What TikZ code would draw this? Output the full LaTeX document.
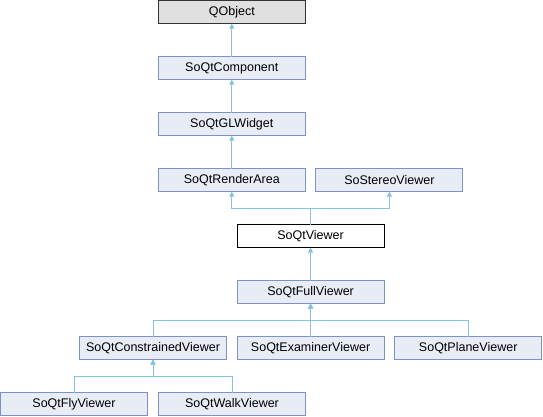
\documentclass[tikz,border=0pt]{standalone}
\usepackage{fontspec}
\setmainfont{Liberation Sans}
\usepackage{xcolor}
\usepackage{tikz}
\usetikzlibrary{arrows.meta,positioning,calc}

\definecolor{boxfill}{HTML}{E8ECF5}
\definecolor{boxline}{HTML}{7D92C9}
\definecolor{edgeblue}{HTML}{86C2E6}

\begin{document}
\begin{tikzpicture}[
  x=1pt, y=1pt,
  cls/.style={rectangle, draw=boxline, fill=boxfill, line width=0.9pt, outer sep=0pt,
              minimum width=147pt, minimum height=23pt, inner sep=0pt,
              font=\fontsize{12.5}{15}\selectfont},
  root/.style={cls, draw=black!80, fill=black!12},
  self/.style={cls, draw=black, fill=white},
  inh/.style={-{Triangle[length=5pt,width=5pt]}, draw=edgeblue, line width=0.9pt},
  node distance=33pt and 10.6pt
]
  \useasboundingbox (0,0) rectangle (543,-416);

  \node[root] (QObject) at (231.8,-12) {QObject};
  \node[cls, below=of QObject] (Component) {SoQtComponent};
  \node[cls, below=of Component] (GLWidget) {SoQtGLWidget};
  \node[cls, below=of GLWidget] (RenderArea) {SoQtRenderArea};
  \node[cls, right=of RenderArea] (Stereo) {SoStereoViewer};

  \node[self, below=of $(RenderArea.south)!0.5!(Stereo.south)$] (Viewer) {SoQtViewer};
  \node[cls, below=of Viewer] (FullViewer) {SoQtFullViewer};
  \node[cls, below=of FullViewer] (Examiner) {SoQtExaminerViewer};
  \node[cls, left=of Examiner] (Constrained) {SoQtConstrainedViewer};
  \node[cls, right=of Examiner] (Plane) {SoQtPlaneViewer};

  \node[cls, below=of Constrained, xshift=-79pt] (Fly) {SoQtFlyViewer};
  \node[cls, below=of Constrained, xshift=79pt] (Walk) {SoQtWalkViewer};

  \draw[inh] (Component) -- (QObject);
  \draw[inh] (GLWidget) -- (Component);
  \draw[inh] (RenderArea) -- (GLWidget);
  \draw[inh] (Viewer.north) -- ++(0,16.5) -| (RenderArea.south);
  \draw[inh] (Viewer.north) -- ++(0,16.5) -| (Stereo.south);
  \draw[inh] (FullViewer) -- (Viewer);
  \draw[inh] (Examiner) -- (FullViewer);
  \draw[inh] (Constrained.north) -- ++(0,16.5) -| (FullViewer.south);
  \draw[inh] (Plane.north) -- ++(0,16.5) -| (FullViewer.south);
  \draw[inh] (Fly.north) -- ++(0,16.5) -| (Constrained.south);
  \draw[inh] (Walk.north) -- ++(0,16.5) -| (Constrained.south);
\end{tikzpicture}
\end{document}
